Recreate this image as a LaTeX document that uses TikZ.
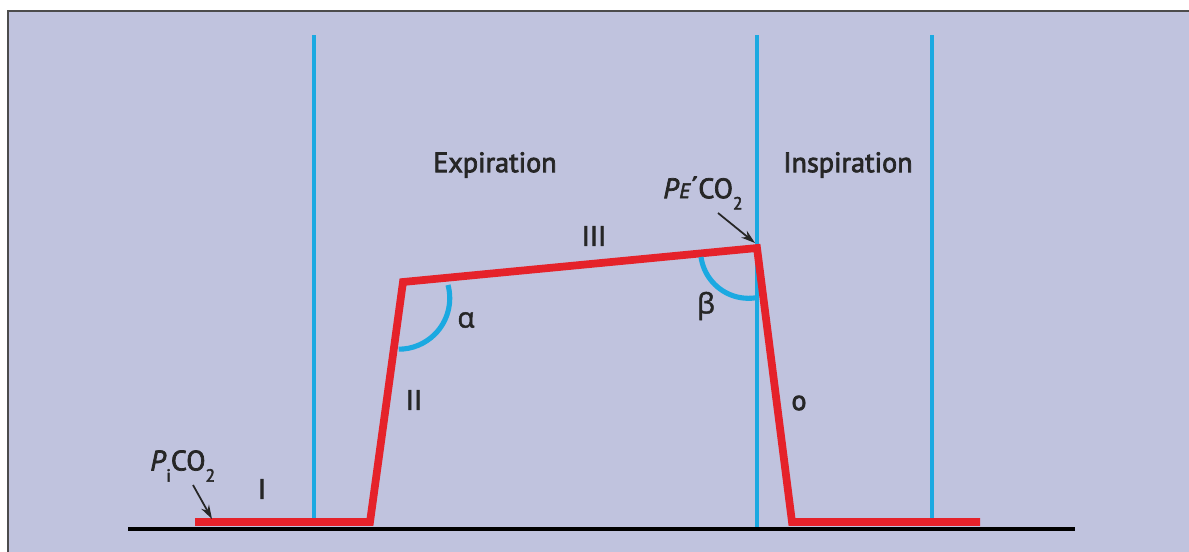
\documentclass[tikz,border=0pt]{standalone}
\usepackage{fontspec}
\setmainfont{PT Sans}
\newfontfamily\lblfont[FakeBold=2.6]{PT Sans}
\newfontfamily\greekfont[FakeBold=1.6]{Open Sans}
\usetikzlibrary{positioning}
\usetikzlibrary{arrows.meta}
\definecolor{panelbg}{HTML}{C0C3DE}
\definecolor{curvered}{HTML}{E5222A}
\definecolor{phaseblue}{HTML}{1BA9E1}
\definecolor{labelgray}{HTML}{262626}
\newcommand{\lowsub}[1]{\raisebox{-0.8ex}{\fontsize{10}{12}\selectfont #1}}

\begin{document}
\begin{tikzpicture}[x=0.02cm,y=-0.02cm,
  phase/.style={phaseblue,line width=2.1pt},
  anglearc/.style={phaseblue,line width=2.9pt},
  capno/.style={curvered,line width=4.4pt,line join=miter},
  lbl/.style={font=\lblfont\fontsize{16}{18}\selectfont,text=labelgray,inner sep=0pt},
  ptr/.style={-{Stealth[length=8pt,width=5pt]},line width=1pt,labelgray}]
\useasboundingbox (0,0) rectangle (1189,551);
\fill[white] (0,0) rectangle (1189,551);
\draw[fill=panelbg,draw=gray!60!black,line width=1.3pt] (8,11) rectangle (1200,560);

% phase boundaries
\draw[phase] (314,35) -- (314,521);
\draw[phase] (757,35) -- (757,528);
\draw[phase] (932,35) -- (932,521);

% time axis
\draw[black,line width=1.8pt] (128,529) -- (1075,529);

% capnogram
\coordinate (s0) at (195,522);
\coordinate (s1) at (370,522);
\coordinate (s2) at (403,282);
\coordinate (s3) at (757,248);
\coordinate (s4) at (792,522);
\coordinate (s5) at (980,522);
\draw[capno] (s0) -- (s1) -- (s2) -- (s3) -- (s4) -- (s5);

% angles
\draw[anglearc] (448,285) arc[start angle=-15,end angle=90,radius=51];
\draw[anglearc] (701,257) arc[start angle=172,end angle=78,radius=48];

\node[lbl] (expi) at (495,165) {Expiration};
\node[lbl] (inspi) at (848,165) {Inspiration};
\node[lbl] (ph3) at (594,236) {III};
\node[lbl] (ph2) at (414,400) {II};
\node[lbl] (ph1) at (262,489) {I};
\node[lbl] (ph0) at (799,403) {o};
\node[lbl] (alpha) at (466,320) {\greekfont α};
\node[lbl] (beta) at (706,306) {\greekfont β};

\node[lbl,anchor=west] (pico) at (150,466) {\textit{P}\lowsub{i}CO\lowsub{2}};
\node[lbl,anchor=west] (peco) at (663,193) {\textit{P}{\fontsize{12}{14}\selectfont\textit{E}}\raisebox{0.1ex}{´}CO\lowsub{2}};
\coordinate (pihead) at (212,519);
\coordinate (pehead) at (755,243);
\draw[ptr] (193,485) -- (pihead);
\draw[ptr] (718,213) -- (pehead);
\end{tikzpicture}
\end{document}
